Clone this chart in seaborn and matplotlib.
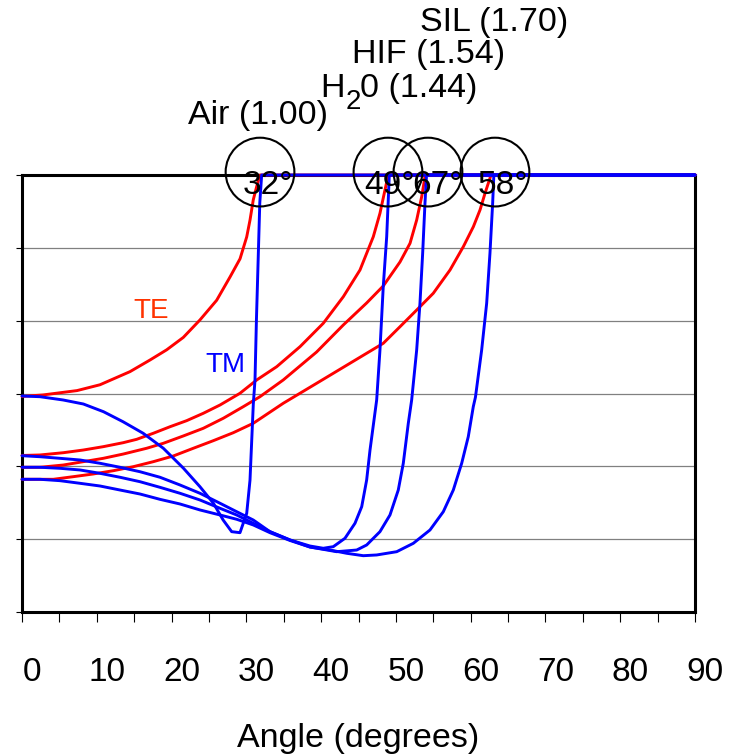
import numpy as np
import pandas as pd
import matplotlib
matplotlib.use("Agg")
import matplotlib.pyplot as plt
from matplotlib.transforms import ScaledTranslation
import seaborn as sns

# ---------------- data ----------------
# Air (1.00)
air_te_angle = [0, 2.8, 7.36, 10.43, 14.44, 17.12, 19.35, 21.57, 23.80, 26.03, 27.82, 29.16,
                30.05, 30.49, 30.93, 31.38, 31.83, 90]
air_te_value = [2.96, 2.98, 3.04, 3.12, 3.30, 3.46, 3.60, 3.77, 4.01, 4.28, 4.60, 4.85,
                5.15, 5.38, 5.66, 5.84, 6.0, 6.0]
air_tm_angle = [0, 2.4, 5.5, 8.2, 10.9, 13.5, 16.2, 18.9, 21.6, 23.8, 25.6, 26.9, 28.04,
                29.15, 30.05, 30.49, 30.93, 31.16, 31.35, 31.80, 32.05, 90]
air_tm_value = [2.966, 2.956, 2.911, 2.856, 2.750, 2.613, 2.454, 2.248, 1.973, 1.720, 1.493,
                1.263, 1.103, 1.089, 1.355, 1.81, 2.85, 3.19, 4.01, 5.62, 6.0, 6.0]

# H2O (1.44)
h2o_te_angle = [0, 2.41, 5.52, 8.20, 10.87, 13.55, 15.34, 17.56, 19.80, 22.02, 24.24, 26.48,
                29.15, 31.39, 34.06, 37.18, 40.29, 42.97, 45.20, 46.98, 47.87, 48.54, 48.98, 90]
h2o_te_value = [2.149, 2.156, 2.187, 2.224, 2.270, 2.325, 2.371, 2.454, 2.544, 2.627, 2.728,
                2.842, 3.003, 3.186, 3.368, 3.643, 3.964, 4.329, 4.696, 5.153, 5.474, 5.794,
                6.0, 6.0]
h2o_tm_angle = [0, 2.41, 5.08, 7.76, 10.43, 13.10, 15.78, 18.45, 21.13, 23.80, 26.48, 28.71,
                30.93, 33.16, 35.84, 38.51, 40.29, 41.63, 43.19, 44.53, 45.43, 46.09, 46.54,
                47.43, 47.87, 48.31, 48.77, 49.12, 90]
h2o_tm_value = [2.146, 2.132, 2.110, 2.087, 2.042, 1.987, 1.926, 1.850, 1.744, 1.630, 1.493,
                1.377, 1.263, 1.103, 0.989, 0.906, 0.875, 0.897, 1.012, 1.218, 1.446, 1.812,
                2.224, 2.911, 3.597, 4.467, 5.153, 6.0, 6.0]

# HIF (1.54)
hif_te_angle = [0, 2.41, 5.52, 8.20, 10.87, 13.55, 16.67, 18.89, 21.57, 24.24, 26.92, 29.59,
                31.82, 34.94, 39.40, 42.97, 46.09, 48.31, 50.55, 51.89, 52.78, 53.45, 53.89,
                54.05, 90]
hif_te_value = [1.987, 1.987, 2.018, 2.064, 2.110, 2.169, 2.248, 2.316, 2.417, 2.522, 2.660,
                2.819, 2.956, 3.186, 3.570, 3.941, 4.243, 4.476, 4.806, 5.062, 5.382, 5.702,
                5.977, 6.0, 6.0]
hif_tm_angle = [0, 2.41, 5.08, 7.76, 10.43, 13.10, 15.78, 18.45, 21.13, 23.80, 26.48, 28.71,
                30.93, 33.16, 35.84, 38.51, 42.08, 44.76, 46.09, 47.87, 49.21, 50.32, 50.99,
                51.66, 52.11, 52.78, 53.22, 53.58, 53.89, 54.1, 90]
hif_tm_value = [1.987, 1.987, 1.973, 1.950, 1.904, 1.850, 1.789, 1.712, 1.630, 1.538, 1.424,
                1.332, 1.218, 1.103, 0.989, 0.892, 0.828, 0.851, 0.920, 1.103, 1.332, 1.675,
                2.042, 2.591, 2.911, 3.597, 4.239, 4.925, 5.612, 6.0, 6.0]

# SIL (1.70)
sil_te_angle = [0, 2.41, 4.19, 6.86, 9.53, 12.21, 14.88, 17.56, 20.23, 22.91, 25.58, 28.26,
                30.93, 34.94, 39.40, 43.86, 48.31, 50.55, 52.78, 55.00, 57.24, 59.02, 60.36,
                61.25, 61.92, 62.72, 90]
sil_te_value = [1.822, 1.822, 1.822, 1.858, 1.895, 1.940, 1.995, 2.064, 2.142, 2.248, 2.352,
                2.462, 2.591, 2.866, 3.140, 3.415, 3.689, 3.917, 4.146, 4.376, 4.696, 5.016,
                5.290, 5.520, 5.749, 6.0, 6.0]
sil_tm_angle = [0, 2.41, 5.08, 7.76, 10.43, 13.10, 15.78, 18.45, 21.13, 23.80, 26.48, 28.71,
                30.93, 33.16, 35.84, 38.51, 41.19, 43.42, 45.64, 47.43, 50.11, 52.33, 54.56,
                56.34, 57.68, 58.80, 59.68, 60.35, 60.64, 61.47, 62.14, 62.58, 62.94, 63.1, 90]
sil_tm_value = [1.822, 1.822, 1.803, 1.767, 1.730, 1.675, 1.620, 1.547, 1.483, 1.401, 1.332,
                1.273, 1.195, 1.089, 0.982, 0.892, 0.851, 0.806, 0.773, 0.783, 0.828, 0.943,
                1.126, 1.377, 1.675, 2.042, 2.407, 2.819, 2.95, 3.597, 4.239, 4.925, 5.612,
                6.0, 6.0]

media = ["Air", "H2O", "HIF", "SIL"]
curves = {
    ("Air", "TE"): (air_te_angle, air_te_value), ("Air", "TM"): (air_tm_angle, air_tm_value),
    ("H2O", "TE"): (h2o_te_angle, h2o_te_value), ("H2O", "TM"): (h2o_tm_angle, h2o_tm_value),
    ("HIF", "TE"): (hif_te_angle, hif_te_value), ("HIF", "TM"): (hif_tm_angle, hif_tm_value),
    ("SIL", "TE"): (sil_te_angle, sil_te_value), ("SIL", "TM"): (sil_tm_angle, sil_tm_value),
}

# critical-angle circles
crit_angles = [31.83, 48.94, 54.29, 63.25]
crit_labels = ["32°", "49°", "67°", "58°"]
crit_label_angles = [32.9, 49.2, 55.6, 64.3]

x_ticks = list(range(0, 95, 5))
x_ticklabels = [str(t) if t % 10 == 0 else "" for t in x_ticks]

# ---------------- build long table ----------------
rows = []
for pol in ["TE", "TM"]:
    for m in media:
        a, v = curves[(m, pol)]
        for i, (xa, yv) in enumerate(zip(a, v)):
            rows.append({"angle": xa, "value": yv, "pol": pol, "medium": m, "order": i})
df = pd.DataFrame(rows)

# ---------------- plot ----------------
sns.set_theme(style="white")
plt.rcParams["font.family"] = ["Liberation Sans", "DejaVu Sans"]

W, H = 740, 755
fig = plt.figure(figsize=(W / 100, H / 100), dpi=100)
ax = fig.add_axes([22 / W, (H - 612) / H, 673 / W, 437 / H])

sns.lineplot(data=df, x="angle", y="value", hue="pol", units="medium",
             estimator=None, sort=False, palette={"TE": "#ff0000", "TM": "#0000ff"},
             linewidth=2.1, legend=False, ax=ax)
for ln in ax.lines:
    ln.set_clip_on(False)
    ln.set_zorder(3)
    ln.set_solid_joinstyle("round")

ax.set_xlim(0, 90)
ax.set_ylim(0, 6)
ax.set_yticks(range(0, 7))
ax.set_yticklabels([])
ax.yaxis.grid(True, color="#808080", linewidth=0.9)
ax.xaxis.grid(False)
ax.set_axisbelow(True)

for s in ["left", "right", "top", "bottom"]:
    ax.spines[s].set_visible(True)
    ax.spines[s].set_color("black")
    ax.spines[s].set_linewidth(2.2)

ax.tick_params(axis="y", direction="out", length=4.5, width=0.8, color="black", left=True)
ax.set_xticks(x_ticks)
ax.set_xticklabels(x_ticklabels)
ax.tick_params(axis="x", direction="out", length=7.5, width=0.8, color="black",
               bottom=True, pad=25, labelsize=24, labelcolor="black")
off = ScaledTranslation(0.10, 0, fig.dpi_scale_trans)
for lab in ax.get_xticklabels():
    lab.set_transform(lab.get_transform() + off)

ax.set_xlabel("Angle (degrees)", fontsize=24.5, color="black", labelpad=25)
ax.set_ylabel("")

# critical angle circles
ax.scatter(crit_angles, [6.04] * len(crit_angles), s=2450, facecolors="none",
           edgecolors="black", linewidths=1.5, clip_on=False, zorder=5)
for xa, lab in zip(crit_label_angles, crit_labels):
    ax.text(xa, 5.74, lab, ha="center", va="baseline", fontsize=24, color="black",
            zorder=6, clip_on=False)

# TE / TM labels
ax.text(17.25, 4.03, "TE", color="#ff3300", fontsize=20, ha="center", va="baseline")
ax.text(27.2, 3.30, "TM", color="#0000ff", fontsize=20, ha="center", va="baseline")

# medium labels (figure pixel positions)
def ftext(x, y, s, **kw):
    fig.text(x / W, 1 - y / H, s, ha="left", va="baseline", color="black", **kw)

ftext(188, 124, "Air (1.00)", fontsize=24.5)
ftext(320, 97, "H", fontsize=24.5)
ftext(346, 109, "2", fontsize=20)
ftext(360, 97, "0 (1.44)", fontsize=24.5)
ftext(352, 63.5, "HIF (1.54)", fontsize=24.5)
ftext(420, 31.5, "SIL (1.70)", fontsize=24.5)

fig.savefig("out.png", dpi=100)
